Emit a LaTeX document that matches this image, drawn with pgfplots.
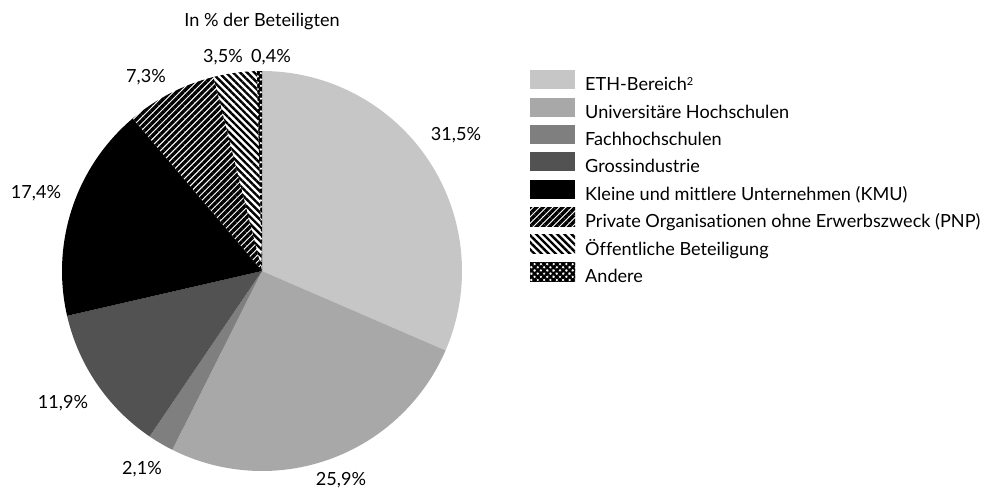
\documentclass[border=0pt]{standalone}
\usepackage{pgfplots}
\pgfplotsset{compat=1.18}
\usepackage{fontspec}
\setmainfont{Lato}[Ligatures=NoCommon]
\usetikzlibrary{patterns.meta}

\definecolor{cETH}{HTML}{C6C6C6}
\definecolor{cUNI}{HTML}{A8A8A8}
\definecolor{cFH}{HTML}{7F7F7F}
\definecolor{cGI}{HTML}{525252}

% pie slice: cumulative percent from..to, centre (262,271), r=200 (picture px, y downward)
\pgfplotsset{
  slice/.style 2 args={draw=none, domain=#1:#2, samples=90, mark=none},
}

\begin{document}
\fontsize{18.1bp}{22bp}\selectfont
\begin{tikzpicture}
\begin{axis}[
  width=984bp, height=490bp, scale only axis,
  xmin=0, xmax=984, ymin=0, ymax=490, y dir=reverse,
  hide axis, clip=false,
  legend cell align=left,
  legend image code/.code={\path[#1, draw=none] (0bp,-3.5bp) rectangle (45bp,15.5bp);},
  legend style={at={(axis cs:530,70)}, anchor=north west, draw=none, fill=none,
    inner sep=0pt, row sep=3.9bp,
    nodes={inner sep=0pt, text height=13bp, text depth=3bp},
    /tikz/every odd column/.append style={column sep=10bp}},
]
\addplot[slice={0}{31.5}, fill=cETH]
  ({262+200*sin(3.6*x)},{271-200*cos(3.6*x)}) -- (axis cs:262,271) -- cycle;
\addlegendentry{ETH-Bereich{\fontsize{11bp}{11bp}\selectfont\raisebox{5bp}{2}}}
\addplot[slice={31.5}{57.4}, fill=cUNI]
  ({262+200*sin(3.6*x)},{271-200*cos(3.6*x)}) -- (axis cs:262,271) -- cycle;
\addlegendentry{Universitäre Hochschulen}
\addplot[slice={57.4}{59.5}, fill=cFH]
  ({262+200*sin(3.6*x)},{271-200*cos(3.6*x)}) -- (axis cs:262,271) -- cycle;
\addlegendentry{Fachhochschulen}
\addplot[slice={59.5}{71.4}, fill=cGI]
  ({262+200*sin(3.6*x)},{271-200*cos(3.6*x)}) -- (axis cs:262,271) -- cycle;
\addlegendentry{Grossindustrie}
\addplot[slice={71.4}{88.8}, fill=black]
  ({262+200*sin(3.6*x)},{271-200*cos(3.6*x)}) -- (axis cs:262,271) -- cycle;
\addlegendentry{Kleine und mittlere Unternehmen (KMU)}
\addplot[slice={88.8}{96.1}, pattern={Lines[angle=45,distance=4.6bp,line width=3.3bp]}, pattern color=black]
  ({262+200*sin(3.6*x)},{271-200*cos(3.6*x)}) -- (axis cs:262,271) -- cycle;
\addlegendentry{Private Organisationen ohne Erwerbszweck (PNP)}
\addplot[slice={96.1}{99.6}, pattern={Lines[angle=-45,distance=5bp,line width=2.4bp]}, pattern color=black]
  ({262+200*sin(3.6*x)},{271-200*cos(3.6*x)}) -- (axis cs:262,271) -- cycle;
\addlegendentry{Öffentliche Beteiligung}
\addplot[slice={99.6}{100}, pattern={Lines[angle=45,distance=4.5bp,line width=2.4bp]}, pattern color=black,
  postaction={pattern={Lines[angle=-45,distance=4.5bp,line width=2.4bp]}, pattern color=black}]
  ({262+200*sin(3.6*x)},{271-200*cos(3.6*x)}) -- (axis cs:262,271) -- cycle;
\addlegendentry{Andere}

\node at (axis cs:262,21) {In \% der Beteiligten};
\node at (axis cs:456,135) {31,5\%};
\node at (axis cs:341,480) {25,9\%};
\node at (axis cs:142,469) {2,1\%};
\node at (axis cs:63,403) {11,9\%};
\node at (axis cs:36,193) {17,4\%};
\node at (axis cs:146,77) {7,3\%};
\node at (axis cs:223,57) {3,5\%};
\node at (axis cs:271,57) {0,4\%};
\end{axis}
\pgfresetboundingbox
\path (0,0) rectangle (984bp,490bp);
\end{tikzpicture}
\end{document}
